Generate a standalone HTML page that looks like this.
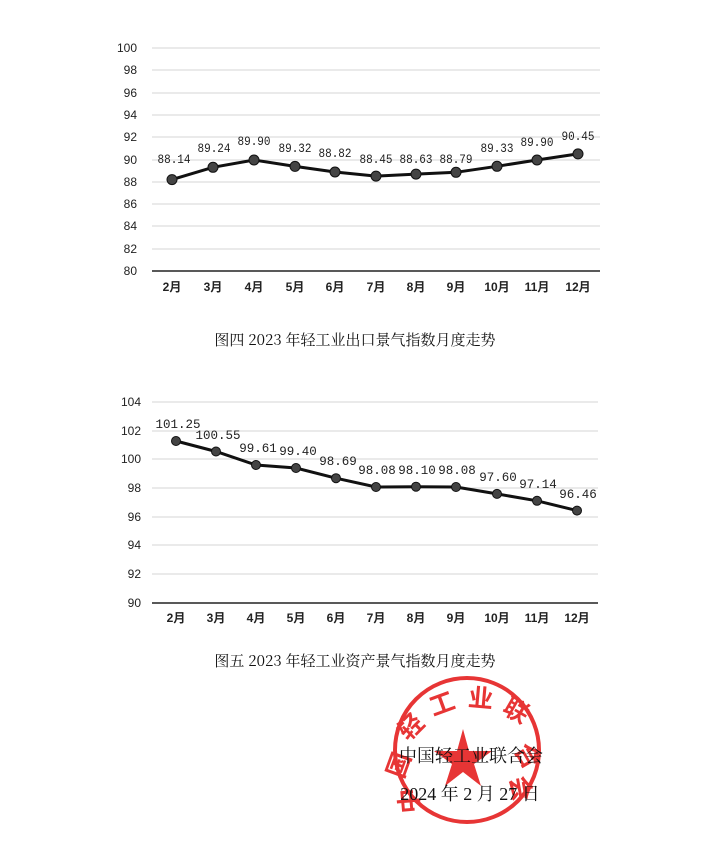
<!DOCTYPE html>
<html><head><meta charset="utf-8"><style>
body{margin:0;background:#fff;}
svg{display:block;font-family:"Liberation Serif","Noto Serif CJK SC",serif;}
</style></head><body>
<svg width="711" height="851" viewBox="0 0 711 851" xmlns="http://www.w3.org/2000/svg">
<g stroke="#d4d4d4" stroke-width="1">
<line x1="152" y1="48" x2="600" y2="48"/><line x1="152" y1="70" x2="600" y2="70"/><line x1="152" y1="93" x2="600" y2="93"/><line x1="152" y1="115" x2="600" y2="115"/><line x1="152" y1="137" x2="600" y2="137"/><line x1="152" y1="160" x2="600" y2="160"/><line x1="152" y1="182" x2="600" y2="182"/><line x1="152" y1="204" x2="600" y2="204"/><line x1="152" y1="226" x2="600" y2="226"/><line x1="152" y1="249" x2="600" y2="249"/>
</g>
<line x1="152" y1="271" x2="600" y2="271" stroke="#222" stroke-width="1.5"/>
<g font-family="Liberation Sans,sans-serif" font-size="12" text-anchor="end" fill="#222">
<text x="137" y="52">100</text><text x="137" y="74">98</text><text x="137" y="97">96</text><text x="137" y="119">94</text><text x="137" y="141">92</text><text x="137" y="164">90</text><text x="137" y="186">88</text><text x="137" y="208">86</text><text x="137" y="230">84</text><text x="137" y="253">82</text><text x="137" y="275">80</text>
</g>
<g font-family="Liberation Sans,'Noto Sans CJK SC',sans-serif" font-size="12" font-weight="bold" text-anchor="middle" fill="#222">
<text x="172" y="291">2月</text><text x="213" y="291">3月</text><text x="254" y="291">4月</text><text x="295" y="291">5月</text><text x="335" y="291">6月</text><text x="376" y="291">7月</text><text x="416" y="291">8月</text><text x="456" y="291">9月</text><text x="497" y="291">10月</text><text x="537" y="291">11月</text><text x="578" y="291">12月</text>
</g>
<polyline fill="none" stroke="#111" stroke-width="3" points="172,179.6 213,167.3 254,160 295,166.4 335,172 376,176.1 416,174.1 456,172.3 497,166.3 537,160 578,153.9"/>
<g fill="#444" stroke="#111" stroke-width="1">
<circle cx="172" cy="179.6" r="5"/><circle cx="213" cy="167.3" r="5"/><circle cx="254" cy="160" r="5"/><circle cx="295" cy="166.4" r="5"/><circle cx="335" cy="172" r="5"/><circle cx="376" cy="176.1" r="5"/><circle cx="416" cy="174.1" r="5"/><circle cx="456" cy="172.3" r="5"/><circle cx="497" cy="166.3" r="5"/><circle cx="537" cy="160" r="5"/><circle cx="578" cy="153.9" r="5"/>
</g>
<g font-size="13" text-anchor="middle" fill="#222" font-family="Liberation Mono,monospace">
<text x="174" y="163" textLength="33" lengthAdjust="spacingAndGlyphs">88.14</text><text x="214" y="152" textLength="33" lengthAdjust="spacingAndGlyphs">89.24</text><text x="254" y="145" textLength="33" lengthAdjust="spacingAndGlyphs">89.90</text><text x="295" y="152" textLength="33" lengthAdjust="spacingAndGlyphs">89.32</text><text x="335" y="157" textLength="33" lengthAdjust="spacingAndGlyphs">88.82</text><text x="376" y="163" textLength="33" lengthAdjust="spacingAndGlyphs">88.45</text><text x="416" y="163" textLength="33" lengthAdjust="spacingAndGlyphs">88.63</text><text x="456" y="163" textLength="33" lengthAdjust="spacingAndGlyphs">88.79</text><text x="497" y="152" textLength="33" lengthAdjust="spacingAndGlyphs">89.33</text><text x="537" y="146" textLength="33" lengthAdjust="spacingAndGlyphs">89.90</text><text x="578" y="140" textLength="33" lengthAdjust="spacingAndGlyphs">90.45</text>
</g>
<text x="355" y="345" font-size="15" text-anchor="middle" fill="#111" font-family="'Noto Serif CJK SC',serif">图四  2023 年轻工业出口景气指数月度走势</text>

<g stroke="#d4d4d4" stroke-width="1">
<line x1="152" y1="402" x2="598" y2="402"/><line x1="152" y1="431" x2="598" y2="431"/><line x1="152" y1="459" x2="598" y2="459"/><line x1="152" y1="488" x2="598" y2="488"/><line x1="152" y1="517" x2="598" y2="517"/><line x1="152" y1="545" x2="598" y2="545"/><line x1="152" y1="574" x2="598" y2="574"/>
</g>
<line x1="152" y1="603" x2="598" y2="603" stroke="#222" stroke-width="1.5"/>
<g font-family="Liberation Sans,sans-serif" font-size="12" text-anchor="end" fill="#222">
<text x="141" y="406">104</text><text x="141" y="435">102</text><text x="141" y="463">100</text><text x="141" y="492">98</text><text x="141" y="521">96</text><text x="141" y="549">94</text><text x="141" y="578">92</text><text x="141" y="607">90</text>
</g>
<g font-family="Liberation Sans,'Noto Sans CJK SC',sans-serif" font-size="12" font-weight="bold" text-anchor="middle" fill="#222">
<text x="176" y="622">2月</text><text x="216" y="622">3月</text><text x="256" y="622">4月</text><text x="296" y="622">5月</text><text x="336" y="622">6月</text><text x="376" y="622">7月</text><text x="416" y="622">8月</text><text x="456" y="622">9月</text><text x="497" y="622">10月</text><text x="537" y="622">11月</text><text x="577" y="622">12月</text>
</g>
<polyline fill="none" stroke="#111" stroke-width="3" points="176,441 216,451.5 256,465 296,468 336,478.2 376,487 416,486.7 456,487 497,493.9 537,500.8 577,510.6"/>
<g fill="#444" stroke="#111" stroke-width="1">
<circle cx="176" cy="441" r="4.5"/><circle cx="216" cy="451.5" r="4.5"/><circle cx="256" cy="465" r="4.5"/><circle cx="296" cy="468" r="4.5"/><circle cx="336" cy="478.2" r="4.5"/><circle cx="376" cy="487" r="4.5"/><circle cx="416" cy="486.7" r="4.5"/><circle cx="456" cy="487" r="4.5"/><circle cx="497" cy="493.9" r="4.5"/><circle cx="537" cy="500.8" r="4.5"/><circle cx="577" cy="510.6" r="4.5"/>
</g>
<g font-size="12.5" text-anchor="middle" fill="#222" font-family="Liberation Mono,monospace">
<text x="178" y="428">101.25</text><text x="218" y="439">100.55</text><text x="258" y="452">99.61</text><text x="298" y="455">99.40</text><text x="338" y="465">98.69</text><text x="377" y="474">98.08</text><text x="417" y="474">98.10</text><text x="457" y="474">98.08</text><text x="498" y="481">97.60</text><text x="538" y="488">97.14</text><text x="578" y="498">96.46</text>
</g>
<text x="355" y="666" font-size="15" text-anchor="middle" fill="#111" font-family="'Noto Serif CJK SC',serif">图五  2023 年轻工业资产景气指数月度走势</text>

<g opacity="0.9">
<circle cx="467" cy="750" r="72" fill="none" stroke="#e52020" stroke-width="4"/>
<polygon points="463,729 469,751 492,751 474,764 481,786 463,772 445,786 452,764 434,751 457,751" fill="#e52020"/>
<g fill="#e52020" font-family="'Noto Sans CJK SC',sans-serif" font-size="25" font-weight="bold" text-anchor="middle">
<text x="417" y="733" transform="rotate(-45 417 733)">轻</text>
<text x="445" y="712" transform="rotate(-20 445 712)">工</text>
<text x="480" y="707" transform="rotate(5 480 707)">业</text>
<text x="512" y="718" transform="rotate(30 512 718)">联</text>
<text x="520" y="760" transform="rotate(60 520 760)">合</text>
<text x="512" y="790" transform="rotate(80 512 790)">会</text>
<text x="407" y="768" transform="rotate(-70 407 768)">国</text>
<text x="418" y="800" transform="rotate(-95 418 800)">中</text>
</g>
</g>
<text x="471" y="762" font-size="18" text-anchor="middle" fill="#111" font-family="'Noto Serif CJK SC',serif">中国轻工业联合会</text>
<text x="470" y="800" font-size="18" text-anchor="middle" fill="#111" font-family="'Liberation Serif','Noto Serif CJK SC',serif">2024 年 2 月 27 日</text>
</svg>
</body></html>
